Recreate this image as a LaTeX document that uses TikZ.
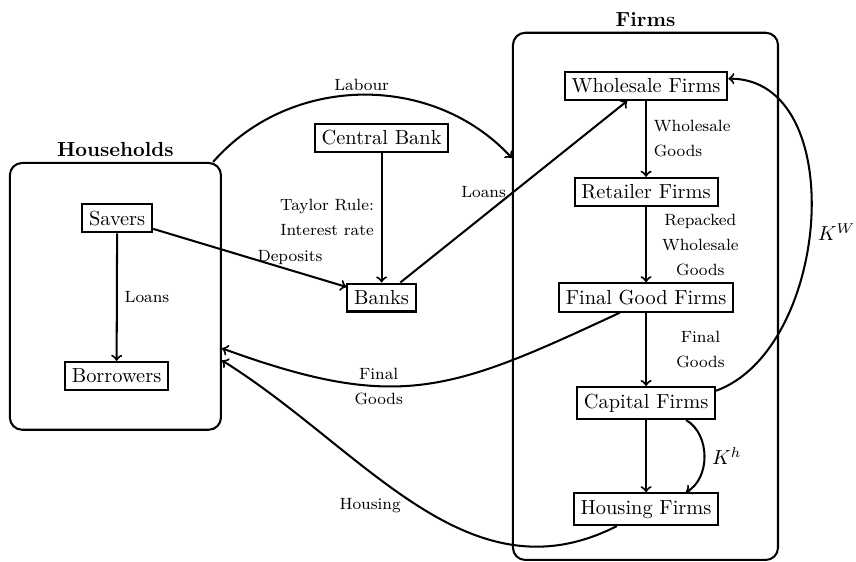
\documentclass[tikz,border=0pt]{standalone}
\usepackage{tikz}

\begin{document}
\begin{tikzpicture}[
  firm/.style={draw, line width=1pt},
  sector/.style={draw, line width=1pt, rounded corners=6pt},
  flow/.style={->, line width=1pt},
  lab/.style={font=\fontsize{8}{12.3}\selectfont, align=center}]
  \useasboundingbox (0,0) rectangle (14.76,9.69);
  % sectors
  \node[sector, minimum width=3.64cm, minimum height=4.6cm, label={[label distance=-1pt]above:\textbf{Households}}] (hh) at (1.99,4.58) {};
  \node[sector, minimum width=4.57cm, minimum height=9.09cm, label={[label distance=-1pt]above:\textbf{Firms}}] (firms) at (11.13,4.58) {};
  % agents
  \node[firm] (savers) at (2.02,5.93) {Savers};
  \node[firm] (borrowers) at (2.01,3.21) {Borrowers};
  \node[firm] (cb) at (6.58,7.31) {Central Bank};
  \node[firm] (banks) at (6.58,4.56) {Banks};
  \node[firm] (wf) at (11.14,8.21) {Wholesale Firms};
  \node[firm] (rf) at (11.14,6.38) {Retailer Firms};
  \node[firm] (fgf) at (11.14,4.56) {Final Good Firms};
  \node[firm] (cf) at (11.14,2.74) {Capital Firms};
  \node[firm] (hf) at (11.14,0.91) {Housing Firms};
  % flows
  \draw[flow] (savers) -- node[lab, midway, right] {Loans} (borrowers);
  \draw[flow] (savers) -- node[lab, midway, right] {Deposits} (banks);
  \draw[flow] (cb) -- node[lab, midway, left] {Taylor Rule:\\Interest rate} (banks);
  \draw[flow] (banks) -- node[lab, midway, left] {Loans} (wf);
  \draw[flow] (hh.54) to[bend left=48] node[lab, midway, above, inner sep=1.5pt] {Labour} (firms.134.6);
  \draw[flow] (wf) -- node[lab, midway, right, align=left] {Wholesale\\Goods} (rf);
  \draw[flow] (rf) -- node[lab, midway, right, xshift=4pt] {Repacked\\Wholesale\\Goods} (fgf);
  \draw[flow] (fgf) -- node[lab, midway, right, xshift=11pt] {Final\\Goods} (cf);
  \draw[flow] (cf) -- (hf);
  \draw[flow] (cf.10) to[out=20, in=0] node[pos=0.47, right] {$K^W$} (wf.5.5);
  \draw[flow] (cf.-23) to[bend left=60] node[midway, right] {$K^h$} (hf.23);
  \draw[flow] (fgf.210) to[out=205, in=-20, looseness=1.2] node[lab, pos=0.63] {Final\\Goods} (hh.-26.5);
  \draw[flow] (hf.210) to[out=207, in=-32] node[lab, midway, left=4pt] {Housing} (hh.-31.5);
\end{tikzpicture}
\end{document}
